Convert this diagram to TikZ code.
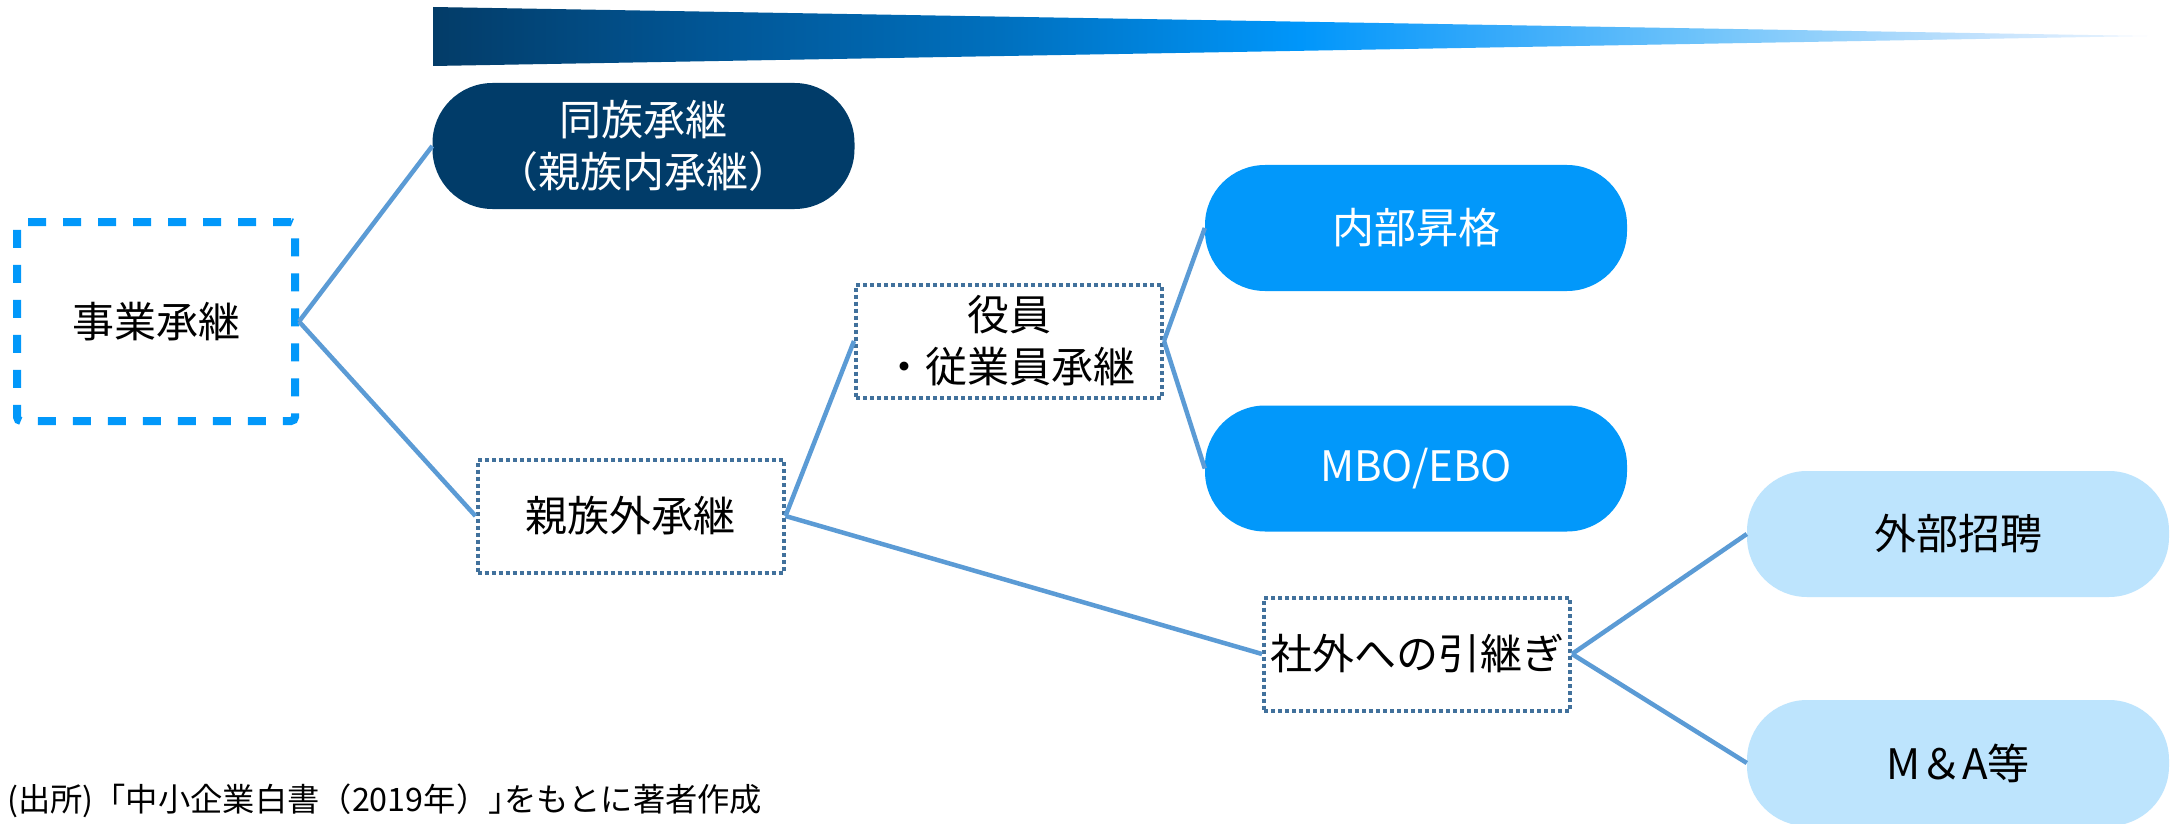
\documentclass[tikz,border=0pt]{standalone}
\usepackage{fontspec}
\setmainfont{Noto Sans CJK JP}
\definecolor{cdark}{RGB}{1,60,105}
\definecolor{cbright}{RGB}{2,152,250}
\definecolor{clight}{RGB}{189,228,253}
\definecolor{cdot}{RGB}{65,113,156}
\definecolor{cconn}{RGB}{91,155,213}
\definecolor{wa}{RGB}{3,60,104}
\definecolor{wb}{RGB}{1,85,148}
\definecolor{wc}{RGB}{0,112,190}
\definecolor{wd}{RGB}{0,150,250}
\definecolor{we}{RGB}{55,170,250}
\definecolor{wf}{RGB}{110,195,250}
\definecolor{wg}{RGB}{200,228,253}
\definecolor{wh}{RGB}{235,245,255}
\pgfdeclarehorizontalshading{wedgeshade}{100bp}{color(0bp)=(wa); color(25bp)=(wa); color(32.8bp)=(wb); color(41.55bp)=(wc); color(50.3bp)=(wd); color(56.15bp)=(we); color(61.95bp)=(wf); color(70.7bp)=(wg); color(75bp)=(wh); color(100bp)=(wh)}
\tikzset{
  txt/.style={font=\fontsize{42}{52}\selectfont, align=center, inner sep=0pt},
  pill/.style={txt, rounded corners=60pt, minimum width=422pt, minimum height=126pt},
  darkpill/.style={pill, fill=cdark, text=white},
  brightpill/.style={pill, fill=cbright, text=white},
  lightpill/.style={pill, fill=clight, text=black},
  dotbox/.style={txt, draw=cdot, line width=4pt, dash pattern=on 4pt off 3pt, minimum width=306pt, minimum height=113pt},
  mainbox/.style={txt, draw=cbright, line width=8pt, dash pattern=on 18pt off 17pt, rounded corners=4pt, minimum width=278pt, minimum height=199pt},
  conn/.style={draw=cconn, line width=4.5pt},
  srcnote/.style={font=\fontsize{32.3}{32}\selectfont, inner sep=0pt, anchor=west}
}
\begin{document}
\begin{tikzpicture}[x=1pt, y=-1pt]
\useasboundingbox (0,0) rectangle (2177,824);
\fill[white] (0,0) rectangle (2177,824);
% wedge
\shade[shading=wedgeshade] (433,7) -- (2147,36) -- (433,66) -- cycle;
% nodes
\node[mainbox] (jigyo) at (156,321.5) {事業承継};
\node[darkpill] (dozoku) at (643.5,146) {同族承継\\（親族内承継）};
\node[dotbox] (shinzokugai) at (630.5,516) {親族外承継};
\node[dotbox] (yakuin) at (1009,341) {役員\\・従業員承継};
\node[brightpill] (naibu) at (1416,228) {内部昇格};
\node[brightpill] (mbo) at (1416,468.5) {MBO/EBO};
\node[dotbox] (shagai) at (1417,654) {社外への引継ぎ};
\node[lightpill] (gaibu) at (1958,534) {外部招聘};
\node[lightpill] (ma) at (1958,763) {M＆A等};
% connectors
\draw[conn] (jigyo.east) -- (dozoku.west);
\draw[conn] (jigyo.east) -- (shinzokugai.west);
\draw[conn] (shinzokugai.east) -- (yakuin.west);
\draw[conn] (shinzokugai.east) -- (shagai.west);
\draw[conn] (yakuin.east) -- (naibu.west);
\draw[conn] (yakuin.east) -- (mbo.west);
\draw[conn] (shagai.east) -- (gaibu.west);
\draw[conn] (shagai.east) -- (ma.west);
% source
\node[srcnote] (src) at (7,801) {(出所)「中小企業白書（2019年）｣をもとに著者作成};
\end{tikzpicture}
\end{document}
